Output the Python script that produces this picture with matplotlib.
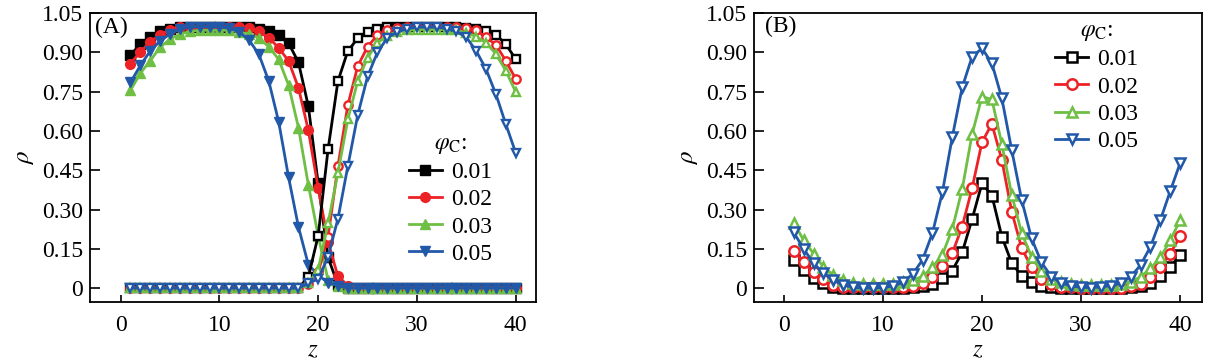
import numpy as np
import matplotlib
matplotlib.use('Agg')
import matplotlib.pyplot as plt
from matplotlib.ticker import FixedLocator, FixedFormatter

plt.rcParams['font.family'] = ['Liberation Serif', 'DejaVu Serif']
plt.rcParams['mathtext.fontset'] = 'stix'

z = np.arange(1, 41)
phi_labels = ['0.01', '0.02', '0.03', '0.05']
colors = ['#000000', '#ec2227', '#6fbf45', '#2258a8']
markers = ['s', 'o', '^', 'v']

# panel A, filled markers (homopolymer A, falls at the interface)
rhoA_001 = [0.89, 0.93, 0.96, 0.98, 0.99, 0.995, 0.995, 0.995, 0.995, 0.995,
            0.995, 0.995, 0.995, 0.99, 0.983, 0.965, 0.935, 0.862, 0.695, 0.40,
            0.117, 0.013, 0, 0, 0, 0, 0, 0, 0, 0,
            0, 0, 0, 0, 0, 0, 0, 0, 0, 0]
rhoA_002 = [0.857, 0.902, 0.94, 0.967, 0.987, 0.996, 0.996, 0.996, 0.996, 0.996,
            0.996, 0.996, 0.992, 0.98, 0.956, 0.917, 0.867, 0.765, 0.603, 0.382,
            0.176, 0.045, 0.01, 0, 0, 0, 0, 0, 0, 0,
            0, 0, 0, 0, 0, 0, 0, 0, 0, 0]
rhoA_003 = [0.755, 0.82, 0.868, 0.919, 0.95, 0.969, 0.98, 0.984, 0.984, 0.984,
            0.984, 0.978, 0.97, 0.955, 0.921, 0.873, 0.775, 0.613, 0.395, 0.20,
            0.03, 0.01, 0, 0, 0, 0, 0, 0, 0, 0,
            0, 0, 0, 0, 0, 0, 0, 0, 0, 0]
rhoA_005 = [0.785, 0.85, 0.905, 0.943, 0.97, 0.988, 0.997, 0.997, 0.997, 0.997,
            0.992, 0.978, 0.947, 0.892, 0.79, 0.635, 0.424, 0.234, 0.09, 0.05,
            0.02, 0.01, 0, 0, 0, 0, 0, 0, 0, 0,
            0, 0, 0, 0, 0, 0, 0, 0, 0, 0]

# panel A, open markers (homopolymer B, rises after the interface)
rhoB_001 = [0, 0, 0, 0, 0, 0, 0, 0, 0, 0,
            0, 0, 0, 0, 0, 0, 0, 0, 0.042, 0.20,
            0.53, 0.79, 0.905, 0.953, 0.978, 0.99, 0.996, 0.996, 0.996, 0.996,
            0.996, 0.996, 0.996, 0.996, 0.994, 0.99, 0.98, 0.967, 0.93, 0.874]
rhoB_002 = [0, 0, 0, 0, 0, 0, 0, 0, 0, 0,
            0, 0, 0, 0, 0, 0, 0, 0, 0.016, 0.06,
            0.197, 0.466, 0.698, 0.847, 0.921, 0.966, 0.985, 0.994, 0.997, 0.997,
            0.997, 0.997, 0.997, 0.997, 0.992, 0.985, 0.957, 0.928, 0.867, 0.798]
rhoB_003 = [0, 0, 0, 0, 0, 0, 0, 0, 0, 0,
            0, 0, 0, 0, 0, 0, 0, 0, 0.018, 0.07,
            0.248, 0.44, 0.644, 0.79, 0.88, 0.936, 0.964, 0.978, 0.984, 0.987,
            0.987, 0.987, 0.987, 0.984, 0.975, 0.96, 0.937, 0.893, 0.829, 0.748]
rhoB_005 = [0, 0, 0, 0, 0, 0, 0, 0, 0, 0,
            0, 0, 0, 0, 0, 0, 0, 0, 0.018, 0.035,
            0.12, 0.265, 0.465, 0.66, 0.808, 0.90, 0.955, 0.978, 0.99, 0.996,
            0.996, 0.996, 0.99, 0.98, 0.957, 0.905, 0.835, 0.739, 0.625, 0.516]

# panel B, copolymer density
rhoC_001 = [0.107, 0.069, 0.039, 0.02, 0.006, 0.002, 0.002, 0.002, 0.002, 0.002,
            0.002, 0.002, 0.004, 0.009, 0.017, 0.038, 0.067, 0.136, 0.263, 0.40,
            0.353, 0.197, 0.095, 0.047, 0.022, 0.01, 0.004, 0.002, 0.002, 0.002,
            0.002, 0.002, 0.002, 0.002, 0.004, 0.007, 0.018, 0.046, 0.081, 0.126]
rhoC_002 = [0.143, 0.098, 0.06, 0.033, 0.013, 0.005, 0.003, 0.003, 0.003, 0.003,
            0.003, 0.003, 0.008, 0.019, 0.044, 0.083, 0.133, 0.235, 0.381, 0.557,
            0.627, 0.489, 0.292, 0.153, 0.079, 0.034, 0.015, 0.006, 0.003, 0.002,
            0.002, 0.002, 0.002, 0.002, 0.008, 0.015, 0.043, 0.081, 0.132, 0.198]
rhoC_003 = [0.25, 0.183, 0.132, 0.081, 0.05, 0.031, 0.02, 0.017, 0.016, 0.016,
            0.017, 0.022, 0.03, 0.045, 0.079, 0.127, 0.225, 0.377, 0.587, 0.731,
            0.72, 0.55, 0.356, 0.21, 0.12, 0.064, 0.036, 0.022, 0.016, 0.013,
            0.012, 0.012, 0.012, 0.016, 0.025, 0.043, 0.075, 0.117, 0.183, 0.26]
rhoC_005 = [0.213, 0.15, 0.095, 0.057, 0.03, 0.012, 0.003, 0.0, 0.0, 0.002,
            0.008, 0.022, 0.053, 0.108, 0.21, 0.365, 0.576, 0.766, 0.883, 0.915,
            0.858, 0.725, 0.527, 0.337, 0.19, 0.098, 0.044, 0.02, 0.008, 0.003,
            0.002, 0.004, 0.01, 0.018, 0.043, 0.088, 0.158, 0.26, 0.371, 0.478]

rhoA = [rhoA_001, rhoA_002, rhoA_003, rhoA_005]
rhoB = [rhoB_001, rhoB_002, rhoB_003, rhoB_005]
rhoC = [rhoC_001, rhoC_002, rhoC_003, rhoC_005]

yticks = [0, 0.15, 0.30, 0.45, 0.60, 0.75, 0.90, 1.05]
yticklabels = ['0', '0.15', '0.30', '0.45', '0.60', '0.75', '0.90', '1.05']
xticks = [0, 10, 20, 30, 40]

fig = plt.figure(figsize=(12.16, 3.64), dpi=100)
ax1 = fig.add_axes([0.0740, 0.1703, 0.3668, 0.7940])
ax2 = fig.add_axes([0.6201, 0.1703, 0.3684, 0.7940])

#Panel A: filled = A block, open = B block
for i in range(4):
    ax1.plot(z, rhoA[i], marker=markers[i], color=colors[i], lw=2.0, ms=7,
             mec=colors[i], mfc=colors[i], label=phi_labels[i])
for i in range(4):
    ax1.plot(z, rhoB[i], marker=markers[i], color=colors[i], lw=2.0, ms=6,
             mec=colors[i], mfc='white', mew=1.7)

#Panel B: copolymer profile
for i in range(4):
    ax2.plot(z, rhoC[i], marker=markers[i], color=colors[i], lw=2.0, ms=7.5,
             mec=colors[i], mfc='white', mew=1.8, label=phi_labels[i])

for ax in (ax1, ax2):
    ax.set_ylim(-0.053, 1.05)
    ax.yaxis.set_major_locator(FixedLocator(yticks))
    ax.yaxis.set_major_formatter(FixedFormatter(yticklabels))
    ax.xaxis.set_major_locator(FixedLocator(xticks))
    ax.tick_params(axis='both', direction='in', labelsize=17, width=1.2,
                   top=False, right=False)
    ax.tick_params(axis='y', length=7, pad=5)
    ax.tick_params(axis='x', length=5, pad=9)
    for sp in ax.spines.values():
        sp.set_linewidth(1.3)
    ax.set_xlabel(r'$z$', fontsize=18, labelpad=3)
    ax.set_ylabel(r'$\rho$', fontsize=18, labelpad=4)

ax1.set_xlim(-3.1, 42.05)
ax2.set_xlim(-3.0, 42.2)

ax1.text(0.011, 0.985, '(A)', transform=ax1.transAxes, fontsize=17, va='top', ha='left')
ax2.text(0.024, 0.99, '(B)', transform=ax2.transAxes, fontsize=17, va='top', ha='left')

leg1 = ax1.legend(loc='upper left', bbox_to_anchor=(0.715, 0.585), frameon=False,
                  fontsize=17, title=r'$\varphi_{\rm C}$:', title_fontsize=17,
                  handlelength=1.4, handletextpad=0.4, labelspacing=0.24,
                  borderpad=0, borderaxespad=0)
leg2 = ax2.legend(loc='upper left', bbox_to_anchor=(0.672, 0.975), frameon=False,
                  fontsize=17, title=r'$\varphi_{\rm C}$:', title_fontsize=17,
                  handlelength=1.4, handletextpad=0.4, labelspacing=0.24,
                  borderpad=0, borderaxespad=0)

plt.savefig('out.png', dpi=100)
